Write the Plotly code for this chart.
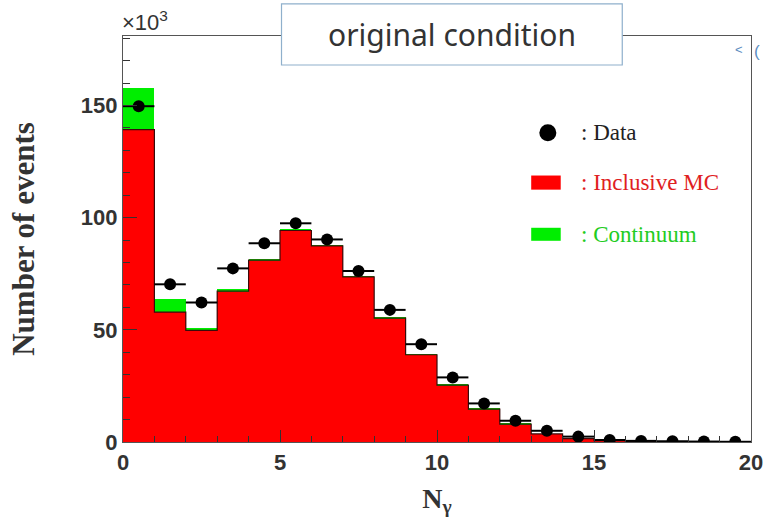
import plotly.graph_objects as go

# ---- data (values in units of 10^3 events) ----
bin_centers = [0.5, 1.5, 2.5, 3.5, 4.5, 5.5, 6.5, 7.5, 8.5, 9.5,
               10.5, 11.5, 12.5, 13.5, 14.5, 15.5, 16.5, 17.5, 18.5, 19.5]
inclusive_mc = [139.3, 57.9, 49.8, 67.3, 81.1, 94.3, 87.4, 73.6, 55.2, 38.9,
                25.4, 14.7, 8.0, 3.6, 1.5, 0.6, 0.3, 0.15, 0.1, 0.05]
continuum = [18.3, 5.7, 1.2, 0.7, 0.3, 0.3, 0.2, 0.2, 0.1, 0.1,
             0.1, 0.05, 0.05, 0.0, 0.0, 0.0, 0.0, 0.0, 0.0, 0.0]
data_vals = [149.7, 70.3, 62.2, 77.4, 88.6, 97.5, 90.3, 76.2, 58.9, 43.6,
             28.8, 17.2, 9.5, 5.0, 2.4, 0.9, 0.5, 0.3, 0.2, 0.1]
bin_half_width = [0.5] * 20
x_tick_vals = [0, 5, 10, 15, 20]
y_tick_vals = [0, 50, 100, 150]

RED = "#ff0000"
GREEN = "#00ee00"

fig = go.Figure()

fig.add_trace(go.Bar(x=bin_centers, y=inclusive_mc, width=1.0,
                     marker=dict(color=RED, line=dict(width=0)),
                     name="Inclusive MC", showlegend=False))
fig.add_trace(go.Bar(x=bin_centers, y=continuum, width=1.0,
                     marker=dict(color=GREEN, line=dict(width=0)),
                     name="Continuum", showlegend=False))

# step outline of the MC histogram
edges = [c - h for c, h in zip(bin_centers, bin_half_width)] + [bin_centers[-1] + bin_half_width[-1]]
step_y = inclusive_mc + [inclusive_mc[-1]]
fig.add_trace(go.Scatter(x=edges, y=step_y, mode="lines", line_shape="hv",
                         line=dict(color="#3a0a0a", width=1.2),
                         showlegend=False, hoverinfo="skip"))

fig.add_trace(go.Scatter(x=bin_centers, y=data_vals, mode="markers",
                         marker=dict(color="black", size=12),
                         error_x=dict(type="data", array=bin_half_width, color="black",
                                      thickness=2, width=0),
                         name="Data", showlegend=False))

# legend (manual, ROOT-style)
fig.add_trace(go.Scatter(x=[13.53], y=[137.9], mode="markers",
                         marker=dict(color="black", size=17),
                         showlegend=False, hoverinfo="skip"))
fig.add_shape(type="rect", x0=13.0, x1=13.94, y0=112.5, y1=118.8,
              fillcolor=RED, line=dict(width=0), layer="above")
fig.add_shape(type="rect", x0=13.0, x1=13.94, y0=89.7, y1=95.5,
              fillcolor=GREEN, line=dict(width=0), layer="above")
legend_font = "Liberation Serif, Times New Roman, serif"
for txt, yv, col in [(": Data", 137.9, "#222222"),
                     (": Inclusive MC", 115.6, "#e0201e"),
                     (": Continuum", 92.4, "#22cc22")]:
    fig.add_annotation(x=14.51, y=yv, text=txt, showarrow=False, xanchor="left",
                       yanchor="middle", font=dict(family=legend_font, size=23, color=col))

# title box
fig.add_shape(type="rect", xref="paper", yref="paper", x0=0.2524, x1=0.795,
              y0=0.9286, y1=1.079, fillcolor="white",
              line=dict(color="#8fb0cc", width=1.2), layer="above")
fig.add_annotation(xref="paper", yref="paper", x=0.5237, y=1.004,
                   text="original condition", showarrow=False,
                   xanchor="center", yanchor="middle",
                   font=dict(family="Noto Sans, sans-serif", size=30, color="#333333"))

# x10^3 multiplier
fig.add_annotation(xref="paper", yref="paper", x=-0.004, y=0.998,
                   text="×10<sup>3</sup>", showarrow=False, xanchor="left", yanchor="bottom",
                   font=dict(family="Liberation Sans, Arial, sans-serif", size=22, color="#333333"))

# small blue marks at top right
fig.add_annotation(xref="paper", yref="paper", x=0.99, y=0.99, text="<", showarrow=False,
                   font=dict(family="Liberation Sans, sans-serif", size=13, color="#5b8cc0"))
fig.add_annotation(xref="paper", yref="paper", x=1.018, y=0.99, text="(", showarrow=False,
                   font=dict(family="Liberation Sans, sans-serif", size=17, color="#5b8cc0"))

tick_font = dict(family="Liberation Sans, Arial, sans-serif", size=22, color="#333333",
                 weight="bold")

fig.update_layout(
    width=775, height=528,
    margin=dict(l=123, r=18, t=36, b=86),
    paper_bgcolor="white", plot_bgcolor="white",
    barmode="stack", bargap=0,
    font=dict(family="Liberation Sans, Arial, sans-serif"),
    xaxis=dict(range=[0, 20], tickvals=x_tick_vals, ticks="inside", ticklen=12,
               tickcolor="#333333", tickwidth=1.2,
               minor=dict(dtick=1, ticks="inside", ticklen=6, tickcolor="#333333"),
               showline=True, linecolor="#555555", linewidth=1.2, mirror=True,
               showgrid=False, zeroline=False, tickfont=tick_font,
               title=dict(text="<b>N<sub>γ</sub></b>", standoff=14,
                          font=dict(family="Liberation Serif, Times New Roman, serif",
                                    size=28, color="#333333"))),
    yaxis=dict(range=[0, 181], tickvals=y_tick_vals, ticks="inside", ticklen=14,
               tickcolor="#333333", tickwidth=1.2,
               minor=dict(dtick=10, ticks="inside", ticklen=7, tickcolor="#333333"),
               showline=True, linecolor="#555555", linewidth=1.2, mirror=True,
               showgrid=False, zeroline=False, tickfont=tick_font,
               title=dict(text="<b>Number of events</b>", standoff=36,
                          font=dict(family="Liberation Serif, Times New Roman, serif",
                                    size=31, color="#333333"))),
)

fig.write_html("out.html")
